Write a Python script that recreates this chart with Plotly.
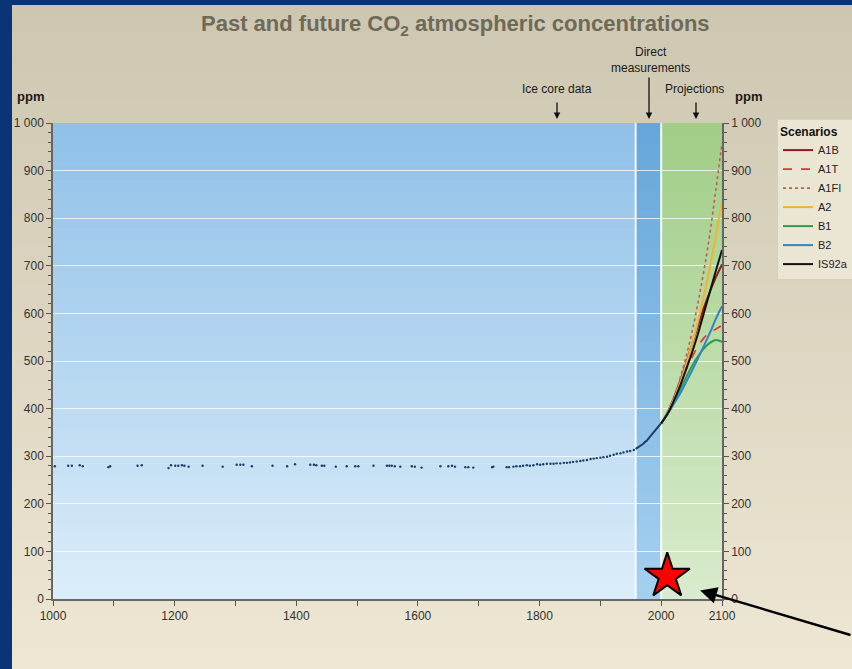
import plotly.graph_objects as go

# ---------------- data ----------------
# Ice core CO2 record (year, ppm)
ice_years = [1003, 1025, 1031, 1044, 1049, 1091, 1094, 1139, 1146, 1190, 1194, 1201, 1206,
             1212, 1216, 1223, 1246, 1279, 1302, 1308, 1313, 1327, 1361, 1385, 1398, 1423,
             1429, 1433, 1442, 1446, 1465, 1483, 1497, 1502, 1527, 1549, 1553, 1557, 1562,
             1571, 1590, 1595, 1606, 1637, 1650, 1656, 1661, 1678, 1683, 1691, 1722, 1724,
             1746, 1750, 1757, 1762, 1768, 1773, 1779, 1784, 1790, 1796, 1801, 1806, 1812,
             1818, 1823, 1828, 1834, 1840, 1845, 1850, 1855, 1861, 1867, 1872, 1878, 1884,
             1889, 1894, 1900, 1905, 1911, 1916, 1922, 1927, 1933, 1938, 1944, 1949, 1955]
ice_ppm = [279, 280, 280, 281, 279, 277, 279, 280, 281, 275, 281, 280, 280,
           281, 280, 278, 280, 278, 282, 282, 282, 279, 280, 279, 283, 282,
           282, 281, 280, 280, 278, 279, 279, 279, 280, 280, 280, 280, 279,
           278, 279, 278, 276, 279, 279, 280, 278, 277, 277, 276, 277, 278,
           277, 277, 278, 279, 279, 280, 281, 280, 281, 283, 282, 283, 284,
           284, 284, 285, 285, 286, 286, 287, 288, 289, 290, 291, 292, 294,
           295, 296, 297, 298, 299, 301, 303, 305, 306, 308, 310, 311, 313]

# Direct atmospheric measurements (annual means)
direct_years = list(range(1958, 2001))
direct_ppm = [315.3, 316.0, 316.9, 317.6, 318.5, 319.0, 319.6, 320.0, 321.4, 322.2, 323.0,
              324.6, 325.7, 326.3, 327.5, 329.7, 330.2, 331.1, 332.0, 333.8, 335.4, 336.8,
              338.8, 340.1, 341.5, 343.1, 344.7, 346.1, 347.4, 349.2, 351.6, 353.1, 354.4,
              355.6, 356.5, 357.1, 358.8, 360.8, 362.6, 363.7, 366.7, 368.4, 369.6]

# Scenario projections, 2000-2100
proj_years = [2000, 2010, 2020, 2030, 2040, 2050, 2060, 2070, 2080, 2090, 2100]
scenarios = {
    "A1B":   [369, 391, 420, 454, 491, 532, 572, 611, 645, 676, 703],
    "A1T":   [369, 390, 417, 447, 478, 506, 530, 548, 560, 567, 575],
    "A1FI":  [369, 391, 420, 459, 505, 557, 619, 688, 767, 861, 958],
    "A2":    [369, 390, 417, 450, 488, 532, 580, 635, 696, 764, 836],
    "B1":    [369, 388, 412, 437, 463, 488, 509, 526, 538, 544, 540],
    "B2":    [369, 387, 408, 429, 453, 478, 504, 531, 559, 589, 615],
    "IS92a": [369, 388, 414, 444, 479, 515, 555, 600, 645, 690, 733],
}

# Period boundaries: ice cores | direct measurements | projections
era_edges = [1000, 1958, 2000, 2100]

# Marker position (year, ppm)
star_year, star_ppm = [2010], [48]

y_ticks = [0, 100, 200, 300, 400, 500, 600, 700, 800, 900, 1000]
y_labels = ["0", "100", "200", "300", "400", "500", "600", "700", "800", "900", "1 000"]
x_ticks = list(range(1000, 2101, 100))
x_labels = ["1000", "", "1200", "", "1400", "", "1600", "", "1800", "", "2000", "2100"]

# ---------------- styling ----------------
FONT = "Arial, Liberation Sans, sans-serif"
W, H = 852, 669
L, R, T, B = 53, 130, 123, 70
PW, PH = W - L - R, H - T - B

styles = {
    "A1B":   dict(color="#8e1b1f", dash="solid", width=2),
    "A1T":   dict(color="#e0352b", dash="dash", width=1.6),
    "A1FI":  dict(color="#c65a55", dash="dot", width=1.6),
    "A2":    dict(color="#f2b234", dash="solid", width=2),
    "B1":    dict(color="#2f9a4c", dash="solid", width=2),
    "B2":    dict(color="#2e86c6", dash="solid", width=2),
    "IS92a": dict(color="#111111", dash="solid", width=2),
}


def px_x(p):
    return (p - L) / PW


def px_y(p):
    return (H - B - p) / PH


def hex_rgb(h):
    h = h.lstrip("#")
    return [int(h[i:i + 2], 16) for i in (0, 2, 4)]


def lerp(c0, c1, t):
    a, b = hex_rgb(c0), hex_rgb(c1)
    return "rgb(%d,%d,%d)" % tuple(round(a[i] + (b[i] - a[i]) * t) for i in range(3))


def gradient(x0, x1, y0, y1, c_top, c_bot, n, xref="x", yref="y"):
    # stacked rectangles, each reaching to the top edge so no seams show between them
    out = []
    for i in range(n):
        ya = y0 + (y1 - y0) * i / n
        t = (i + 0.5) / n
        out.append(dict(type="rect", xref=xref, yref=yref, x0=x0, x1=x1, y0=ya, y1=y1,
                        fillcolor=lerp(c_bot, c_top, t), line_width=0, layer="below"))
    return out


shapes = []
# beige panel behind everything
shapes += gradient(px_x(12), px_x(W + 2), px_y(H + 2), px_y(5), "#cdc6b1", "#ede7d3", 50,
                   xref="paper", yref="paper")
# background bands for the three periods
band_cols = [("#8fc0e8", "#dcedf9"), ("#66a6da", "#a5d0f0"), ("#a0cd86", "#d9ebcd")]
for i in range(3):
    shapes += gradient(era_edges[i], era_edges[i + 1], 0, 1000,
                       band_cols[i][0], band_cols[i][1], 50)
# white separators between periods
for xe in era_edges[1:3]:
    shapes.append(dict(type="line", xref="x", yref="y", x0=xe, x1=xe, y0=0, y1=1000,
                       line=dict(color="rgba(255,255,255,0.9)", width=2), layer="below"))

fig = go.Figure()

fig.add_trace(go.Scatter(x=ice_years, y=ice_ppm, mode="markers", showlegend=False,
                         marker=dict(size=2.4, color="#1f3b66"), hoverinfo="x+y"))
fig.add_trace(go.Scatter(x=direct_years, y=direct_ppm, mode="lines", showlegend=False,
                         line=dict(color="#1f3b66", width=2)))
for name, vals in scenarios.items():
    fig.add_trace(go.Scatter(x=proj_years, y=vals, mode="lines", name=name,
                             line=dict(shape="spline", **styles[name])))
# highlight marker
fig.add_trace(go.Scatter(x=star_year, y=star_ppm, mode="markers", showlegend=False,
                         marker=dict(symbol="star", size=34, color="#ff0000",
                                     line=dict(color="#000000", width=2))))
# invisible trace on the right-hand axis so it gets drawn
fig.add_trace(go.Scatter(x=[None], y=[None], yaxis="y2", showlegend=False))


def label(text, xp, yp, size=12, bold=False):
    return dict(text=f"<b>{text}</b>" if bold else text, xref="paper", yref="paper",
                x=px_x(xp), y=px_y(yp), showarrow=False, xanchor="center", yanchor="middle",
                font=dict(family=FONT, size=size, color="#1a1a1a"))


annotations = [
    dict(text="<b>Past and future CO<sub>2</sub> atmospheric concentrations</b>",
         xref="paper", yref="paper", x=px_x(455), y=px_y(25), showarrow=False,
         font=dict(family=FONT, size=22, color="#6e6a58"), xanchor="center", yanchor="middle"),
    label("ppm", 30, 97, size=13, bold=True),
    label("ppm", 748, 97, size=13, bold=True),
    label("Ice core data", 557, 89),
    label("Direct<br>measurements", 650, 60),
    label("Projections", 694, 89),
]
for ax_px, top_px in [(557, 101), (649, 76), (696, 101)]:
    annotations.append(dict(text="", xref="paper", yref="paper", x=px_x(ax_px), y=px_y(119),
                            ax=0, ay=-(119 - top_px), showarrow=True, arrowhead=2,
                            arrowsize=1, arrowwidth=1.3, arrowcolor="#111"))
# pointer arrow into the projection band
annotations.append(dict(text="", xref="x", yref="y", x=2064, y=18, ax=165, ay=45,
                        showarrow=True, arrowhead=2, arrowsize=1.4, arrowwidth=2.4,
                        arrowcolor="#000"))

axis_font = dict(family=FONT, size=12, color="#333")
yaxis_common = dict(range=[0, 1000], tickvals=y_ticks, ticktext=y_labels, ticks="outside",
                    ticklen=5, tickwidth=1, tickcolor="#555", showline=True, linecolor="#666",
                    linewidth=1.5, tickfont=axis_font, zeroline=False,
                    minor=dict(dtick=20, ticks="outside", ticklen=3, tickcolor="#555",
                               showgrid=False))

fig.update_layout(
    width=W, height=H,
    margin=dict(l=L, r=R, t=T, b=B, autoexpand=False),
    paper_bgcolor="#0b3478",
    plot_bgcolor="rgba(0,0,0,0)",
    shapes=shapes,
    annotations=annotations,
    xaxis=dict(range=[1000, 2100], tickvals=x_ticks, ticktext=x_labels, ticks="outside",
               ticklen=5, tickcolor="#555", showline=True, linecolor="#666", linewidth=1.5,
               showgrid=False, zeroline=False, tickfont=axis_font),
    yaxis=dict(side="left", showgrid=True, gridcolor="rgba(255,255,255,0.75)", gridwidth=1,
               **yaxis_common),
    yaxis2=dict(side="right", overlaying="y", showgrid=False, **yaxis_common),
    legend=dict(title=dict(text="<b>Scenarios</b>", font=dict(family=FONT, size=12, color="#111")),
                x=px_x(777), y=px_y(119), xanchor="left", yanchor="top",
                bgcolor="#ebe5d4", bordercolor="#d6cfbb", borderwidth=1,
                font=dict(family=FONT, size=11, color="#222"), itemwidth=30,
                tracegroupgap=0),
    showlegend=True,
    font=dict(family=FONT),
)

fig.write_html("out.html")
